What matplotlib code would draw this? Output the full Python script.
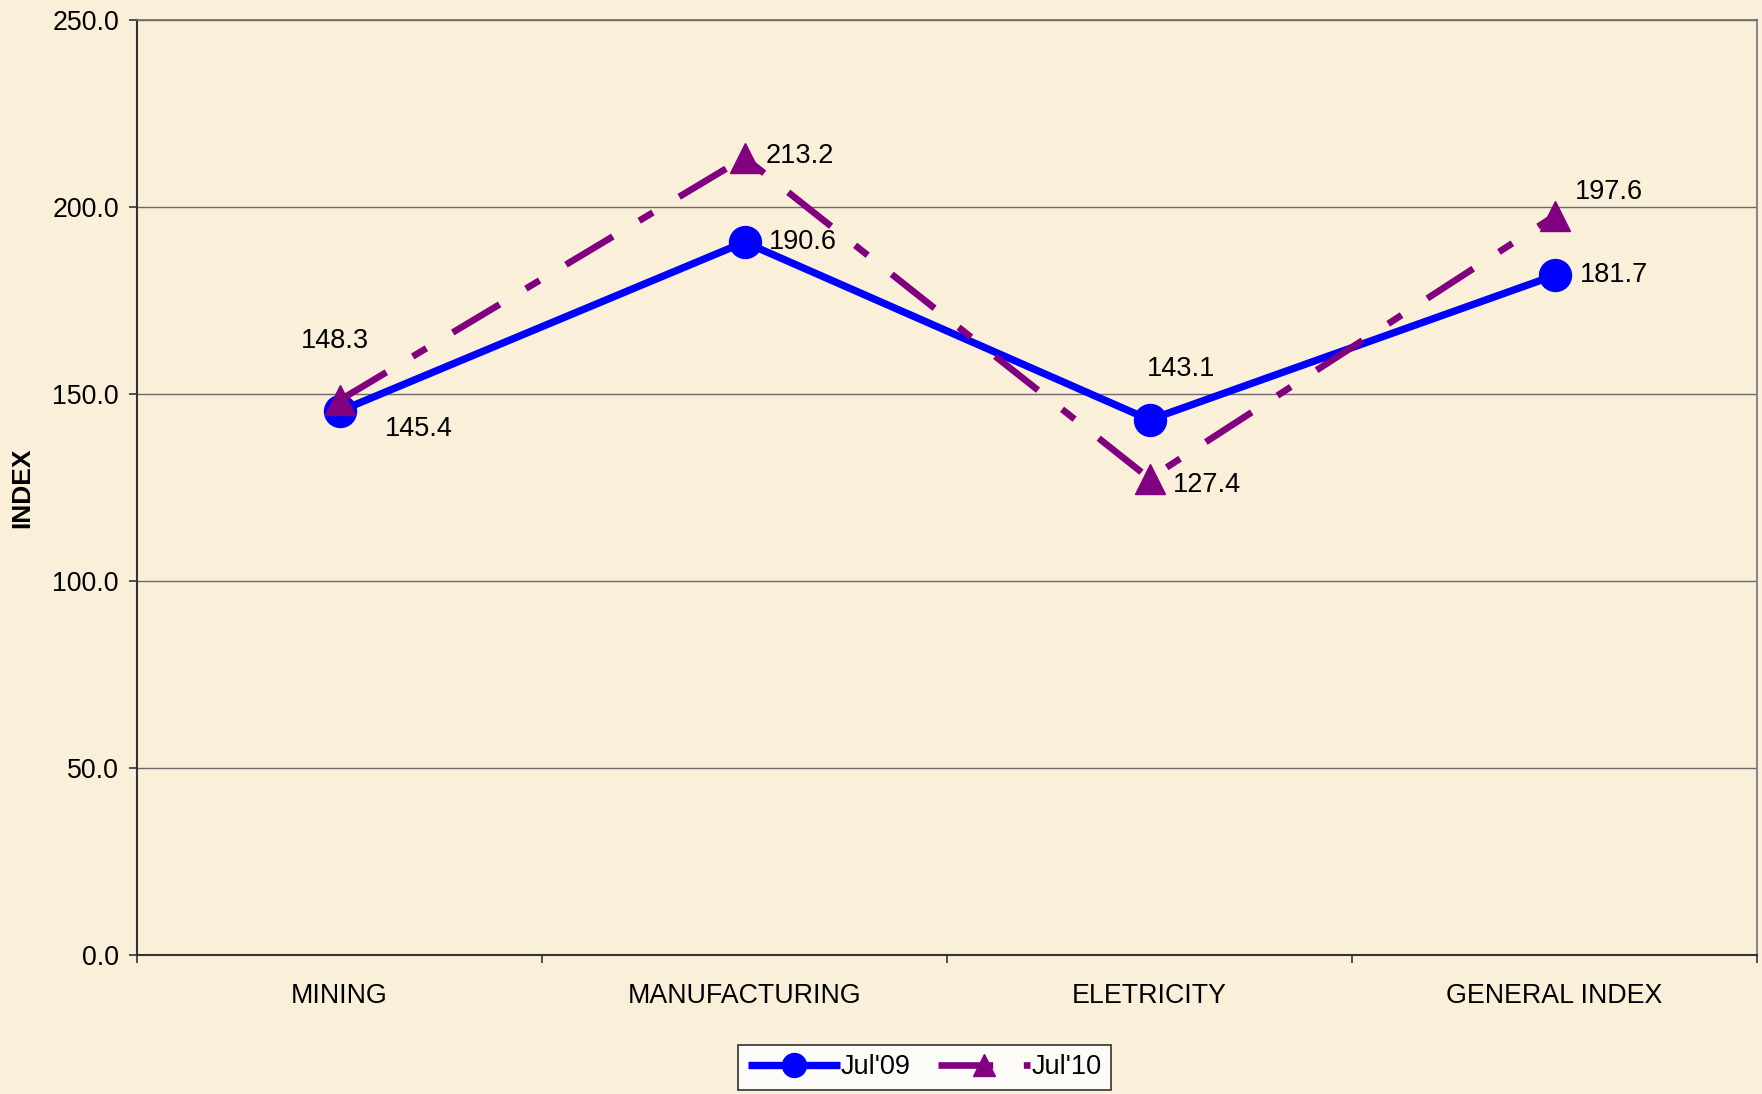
import matplotlib
matplotlib.use("Agg")
import matplotlib.pyplot as plt
from matplotlib.ticker import FixedLocator, FormatStrFormatter

plt.rcParams['font.family'] = ['Liberation Sans', 'DejaVu Sans']

# ---- data ----
categories = ["MINING", "MANUFACTURING", "ELETRICITY", "GENERAL INDEX"]
jul09 = [145.4, 190.6, 143.1, 181.7]
jul10 = [148.3, 213.2, 127.4, 197.6]
series_names = ["Jul'09", "Jul'10"]
y_ticks = [0, 50, 100, 150, 200, 250]

# ---- layout (label offsets in points) ----
off09 = [(57, -13), (42, 0), (23, 36.5), (42.5, 0)]
off10 = [(-3, 43), (40, 1), (41, -4.7), (39.5, 17)]

W, H, DPI = 1762, 1094, 100
bg = '#FAF0DA'
fig = plt.figure(figsize=(W / DPI, H / DPI), dpi=DPI, facecolor=bg)
L, R, T, B = 137, 1757, 20, 955
ax = fig.add_axes([L / W, 1 - B / H, (R - L) / W, (B - T) / H])
ax.set_facecolor(bg)

x = list(range(len(categories)))
ax.plot(x, jul09, color='#0000FF', lw=5.3, marker='o', ms=23,
        label=series_names[0], zorder=3, solid_capstyle='butt')
ax.plot(x, jul10, color='#800080', lw=4.8, marker='^', ms=22,
        linestyle=(0, (8.2, 4.6, 2.4, 4.6)), dash_capstyle='butt',
        label=series_names[1], zorder=4)

for xi, v, o in zip(x, jul09, off09):
    ax.annotate(f"{v:.1f}", (xi, v), xytext=o, textcoords='offset points',
                ha='center', va='center', fontsize=19.5, color='black', zorder=5)
for xi, v, o in zip(x, jul10, off10):
    ax.annotate(f"{v:.1f}", (xi, v), xytext=o, textcoords='offset points',
                ha='center', va='center', fontsize=19.5, color='black', zorder=5)

ax.set_xlim(-0.5, len(categories) - 0.5)
ax.set_ylim(0, 250)
ax.yaxis.set_major_locator(FixedLocator(y_ticks))
ax.yaxis.set_major_formatter(FormatStrFormatter('%.1f'))
ax.set_xticks(x)
ax.set_xticklabels(categories)
ax.set_xticks([i - 0.5 for i in range(len(categories) + 1)], minor=True)
ax.tick_params(axis='x', which='major', length=0, pad=20, labelsize=19.3)
ax.tick_params(axis='x', which='minor', length=6, width=1.2, color='#333333', direction='out')
ax.tick_params(axis='y', which='major', length=6, width=1.2, color='#333333',
               direction='out', pad=7, labelsize=19.3)

ax.grid(axis='y', color='#6b6b6b', lw=1.0, zorder=1)
ax.set_axisbelow(True)
for s in ['left', 'bottom']:
    ax.spines[s].set_color('#333333')
    ax.spines[s].set_linewidth(1.5)
ax.spines['right'].set_color('#888888')
ax.spines['right'].set_linewidth(1.5)
ax.spines['top'].set_color('#6b6b6b')
ax.spines['top'].set_linewidth(1.2)

fig.text(22 / W, 1 - ((T + B) / 2) / H, 'INDEX', rotation=90, fontsize=19,
         fontweight='bold', ha='center', va='center')

leg = fig.legend(loc='center', bbox_to_anchor=((737 + 1112) / 2 / W, 1 - (1043 + 1092) / 2 / H),
                 ncol=2, fontsize=19.5, frameon=True, fancybox=False, handlelength=3.4,
                 handletextpad=0.05, columnspacing=1.0, borderpad=0.35, markerscale=0.75)
leg.get_frame().set_edgecolor('black')
leg.get_frame().set_facecolor('white')
leg.get_frame().set_linewidth(1.2)

fig.savefig('out.png', dpi=DPI, facecolor=bg)
